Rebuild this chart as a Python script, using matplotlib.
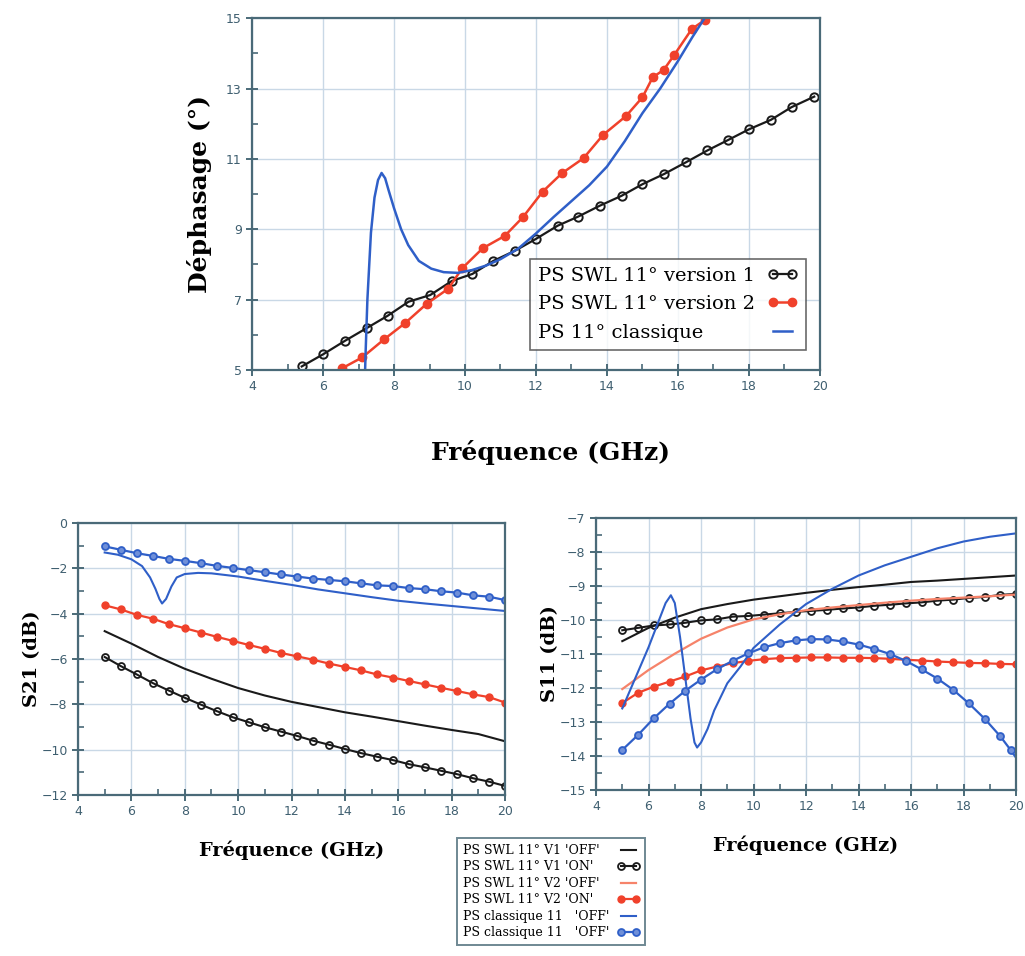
import numpy as np
import matplotlib.pyplot as plt
from matplotlib.ticker import MultipleLocator, FixedLocator

# Couleurs
NOIR = '#1a1a1a'
ROUGE = '#f0412b'
ROUGE_CLAIR = '#f6836a'
BLEU = '#2f5fc8'
GRILLE = '#c9d8e6'
AXE = '#4a6a78'

# ---- Déphasage (graphique du haut) ----
f_v1 = [5.40, 6.01, 6.62, 7.23, 7.82, 8.41, 9.02, 9.63, 10.21, 10.80, 11.41, 11.99, 12.61,
        13.19, 13.80, 14.41, 15.00, 15.61, 16.22, 16.83, 17.42, 18.00, 18.62, 19.20, 19.84]
phase_v1 = [5.10, 5.45, 5.83, 6.19, 6.54, 6.94, 7.13, 7.53, 7.73, 8.10, 8.39, 8.72, 9.10,
            9.36, 9.67, 9.95, 10.28, 10.57, 10.90, 11.24, 11.54, 11.84, 12.11, 12.47, 12.77]

f_v2 = [6.54, 7.11, 7.72, 8.31, 8.92, 9.53, 9.92, 10.50, 11.12, 11.63, 12.19, 12.73, 13.34,
        13.89, 14.54, 15.00, 15.29, 15.60, 15.90, 16.39, 16.76]
phase_v2 = [5.05, 5.36, 5.87, 6.33, 6.88, 7.31, 7.89, 8.46, 8.81, 9.34, 10.07, 10.59, 11.02,
            11.68, 12.22, 12.75, 13.32, 13.53, 13.96, 14.69, 14.95]

f_cl = [7.18, 7.20, 7.25, 7.35, 7.45, 7.55, 7.65, 7.75, 7.85, 8.00, 8.20, 8.40, 8.70, 9.05,
        9.40, 9.80, 10.20, 10.60, 11.00, 11.50, 12.00, 12.50, 13.00, 13.50, 14.00, 14.50,
        15.00, 15.50, 16.00, 16.40, 16.75]
phase_cl = [4.80, 5.50, 7.00, 8.90, 9.90, 10.40, 10.60, 10.45, 10.10, 9.60, 9.00, 8.55, 8.10,
            7.88, 7.78, 7.76, 7.84, 7.97, 8.15, 8.45, 8.88, 9.35, 9.80, 10.25, 10.78, 11.50,
            12.30, 13.00, 13.78, 14.45, 15.00]

# ---- S21 / S11 (graphiques du bas) ----
f_on = [5.0, 5.6, 6.2, 6.8, 7.4, 8.0, 8.6, 9.2, 9.8, 10.4, 11.0, 11.6, 12.2, 12.8, 13.4,
        14.0, 14.6, 15.2, 15.8, 16.4, 17.0, 17.6, 18.2, 18.8, 19.4, 20.0]
f_off = [5, 6, 7, 8, 9, 10, 11, 12, 13, 14, 15, 16, 17, 18, 19, 20]

s21_v1_off = [-4.77, -5.32, -5.91, -6.43, -6.87, -7.28, -7.61, -7.89, -8.12, -8.35, -8.54,
              -8.74, -8.94, -9.13, -9.31, -9.63]
s21_v1_on = [-5.91, -6.31, -6.68, -7.06, -7.39, -7.71, -8.01, -8.30, -8.57, -8.79, -9.01, -9.20,
             -9.39, -9.60, -9.78, -9.97, -10.15, -10.31, -10.46, -10.64, -10.78, -10.93,
             -11.08, -11.26, -11.41, -11.60]
s21_v2_on = [-3.63, -3.81, -4.05, -4.22, -4.46, -4.64, -4.83, -5.02, -5.20, -5.38, -5.55, -5.73,
             -5.88, -6.03, -6.20, -6.35, -6.50, -6.68, -6.82, -6.97, -7.12, -7.27, -7.41,
             -7.56, -7.68, -7.92]
s21_cl_on = [-1.03, -1.18, -1.33, -1.45, -1.58, -1.67, -1.77, -1.89, -1.98, -2.08, -2.17, -2.27,
             -2.36, -2.45, -2.51, -2.57, -2.66, -2.75, -2.78, -2.87, -2.92, -3.01, -3.07,
             -3.19, -3.25, -3.40]
f_s21_cl = [5.0, 5.5, 6.0, 6.4, 6.7, 6.9, 7.05, 7.15, 7.3, 7.5, 7.7, 8.0, 8.5, 9.0, 10, 11, 12,
            13, 14, 15, 16, 17, 18, 19, 20]
s21_cl_off = [-1.30, -1.40, -1.60, -1.90, -2.40, -2.90, -3.35, -3.55, -3.35, -2.80, -2.40, -2.25,
              -2.20, -2.22, -2.36, -2.55, -2.73, -2.93, -3.10, -3.27, -3.43, -3.55, -3.66,
              -3.77, -3.88]

s11_v1_off = [-10.62, -10.23, -9.93, -9.68, -9.53, -9.40, -9.30, -9.20, -9.11, -9.03, -8.96,
              -8.88, -8.84, -8.79, -8.74, -8.69]
s11_v1_on = [-10.30, -10.23, -10.16, -10.13, -10.08, -10.01, -9.98, -9.90, -9.88, -9.84, -9.80,
             -9.76, -9.73, -9.70, -9.66, -9.63, -9.58, -9.55, -9.51, -9.48, -9.43, -9.40,
             -9.35, -9.32, -9.26, -9.23]
s11_v2_off = [-12.03, -11.47, -10.99, -10.55, -10.22, -9.98, -9.83, -9.71, -9.63, -9.56, -9.49,
              -9.43, -9.38, -9.34, -9.30, -9.25]
s11_v2_on = [-12.44, -12.14, -11.96, -11.81, -11.66, -11.48, -11.37, -11.27, -11.20, -11.15,
             -11.12, -11.11, -11.10, -11.10, -11.11, -11.11, -11.12, -11.14, -11.17, -11.19,
             -11.22, -11.24, -11.26, -11.27, -11.29, -11.30]
f_s11_cl_on = [5.0, 5.6, 6.2, 6.8, 7.4, 8.0, 8.6, 9.2, 9.8, 10.4, 11.0, 11.6, 12.2, 12.8, 13.4,
               14.0, 14.6, 15.2, 15.8, 16.4, 17.0, 17.6, 18.2, 18.8, 19.4, 19.8, 20.0]
s11_cl_on = [-13.82, -13.38, -12.89, -12.46, -12.08, -11.75, -11.45, -11.20, -10.98, -10.80,
             -10.68, -10.60, -10.56, -10.57, -10.63, -10.72, -10.85, -11.00, -11.20, -11.45,
             -11.72, -12.05, -12.45, -12.90, -13.42, -13.83, -14.05]
f_s11_cl = [5.0, 5.5, 6.0, 6.4, 6.65, 6.85, 7.0, 7.2, 7.4, 7.6, 7.75, 7.85, 8.0, 8.25, 8.5, 9.0,
            9.5, 10, 11, 12, 13, 14, 15, 16, 17, 18, 19, 20]
s11_cl_off = [-12.60, -11.70, -10.80, -10.00, -9.50, -9.27, -9.50, -10.50, -11.70, -12.90,
              -13.60, -13.75, -13.60, -13.20, -12.66, -11.86, -11.37, -10.82, -10.13, -9.53,
              -9.08, -8.69, -8.39, -8.14, -7.89, -7.69, -7.55, -7.45]

legende_haut = ['PS SWL 11° version 1', 'PS SWL 11° version 2', 'PS 11° classique']
legende_bas = ["PS SWL 11° V1 'OFF'", "PS SWL 11° V1 'ON'", "PS SWL 11° V2 'OFF'",
               "PS SWL 11° V2 'ON'", "PS classique 11   'OFF'", "PS classique 11   'OFF'"]

plt.rcParams['font.family'] = 'DejaVu Serif'


def style_axe(ax, ymaj, ymin_ticks):
    ax.set_xlim(4, 20)
    ax.xaxis.set_major_locator(MultipleLocator(2))
    ax.xaxis.set_minor_locator(MultipleLocator(1))
    ax.yaxis.set_major_locator(FixedLocator(ymaj))
    ax.yaxis.set_minor_locator(FixedLocator(ymin_ticks))
    ax.grid(True, which='major', color=GRILLE, linewidth=1.0)
    ax.set_axisbelow(True)
    for s in ax.spines.values():
        s.set_color(AXE)
        s.set_linewidth(1.6)
    ax.tick_params(which='major', direction='inout', length=8, width=1.4, color=AXE,
                   labelcolor='#3f5f70', labelsize=9)
    ax.tick_params(which='minor', direction='in', length=4, width=1.2, color=AXE)
    for lab in ax.get_xticklabels() + ax.get_yticklabels():
        lab.set_family('DejaVu Sans')


def aligner_legende(leg):
    # texte à gauche, symboles à droite (comme dans la figure d'origine)
    fig.canvas.draw()
    r = fig.canvas.get_renderer()
    larg = [t.get_window_extent(r).width for t in leg.get_texts()]
    m = max(larg)
    for col in leg._legend_handle_box.get_children():
        for ligne, w in zip(col.get_children(), larg):
            ligne.sep += (m - w) * 72 / fig.dpi


fig = plt.figure(figsize=(10.25, 9.56), dpi=100)

# Déphasage
ax1 = fig.add_axes([0.2459, 0.613, 0.554, 0.368])
ax1.plot(f_v1, phase_v1, color=NOIR, lw=1.6, marker='o', ms=6, mfc='none', mec=NOIR, mew=1.4)
ax1.plot(f_v2, phase_v2, color=ROUGE, lw=1.8, marker='o', ms=6, mfc=ROUGE, mec=ROUGE)
ax1.plot(f_cl, phase_cl, color=BLEU, lw=1.8)
ax1.set_ylim(5, 15)
style_axe(ax1, [5, 7, 9, 11, 13, 15], [6, 8, 10, 12, 14])
ax1.set_xlabel('Fréquence (GHz)', fontsize=18, fontweight='bold')
ax1.xaxis.set_label_coords(0.525, -0.2)
ax1.set_ylabel('Déphasage (°)', fontsize=18, fontweight='bold', labelpad=10)
leg = ax1.legend(legende_haut, loc='lower right', bbox_to_anchor=(0.992, 0.03), fontsize=14,
                 markerfirst=False, numpoints=2, frameon=True, fancybox=False,
                 handlelength=1.6, handletextpad=0.6, borderpad=0.4, labelspacing=0.55)
leg.get_frame().set_edgecolor('#444444')
leg.get_frame().set_linewidth(1.2)

# S21
ax2 = fig.add_axes([0.0761, 0.1684, 0.4166, 0.2845])
ax2.plot(f_off, s21_v1_off, color=NOIR, lw=1.5)
ax2.plot(f_on, s21_v1_on, color=NOIR, lw=1.5, marker='o', ms=5, mfc='none', mec=NOIR, mew=1.3)
ax2.plot(f_on, s21_v2_on, color=ROUGE, lw=1.6, marker='o', ms=5, mfc=ROUGE, mec=ROUGE)
ax2.plot(f_s21_cl, s21_cl_off, color=BLEU, lw=1.5)
ax2.plot(f_on, s21_cl_on, color=BLEU, lw=1.6, marker='o', ms=5, mfc='#6f8fd8', mec=BLEU, mew=1.3)
ax2.set_ylim(-12, 0)
style_axe(ax2, range(-12, 1, 2), range(-11, 0, 2))
ax2.set_xlabel('Fréquence (GHz)', fontsize=14, fontweight='bold', labelpad=16)
ax2.set_ylabel('S21 (dB)', fontsize=14, fontweight='bold', labelpad=0)

# S11
ax3 = fig.add_axes([0.5815, 0.1736, 0.4098, 0.2845])
l1, = ax3.plot(f_off, s11_v1_off, color=NOIR, lw=1.5)
l2, = ax3.plot(f_on, s11_v1_on, color=NOIR, lw=1.5, marker='o', ms=5, mfc='none', mec=NOIR,
               mew=1.3)
l3, = ax3.plot(f_off, s11_v2_off, color=ROUGE_CLAIR, lw=1.6)
l4, = ax3.plot(f_on, s11_v2_on, color=ROUGE, lw=1.6, marker='o', ms=5, mfc=ROUGE, mec=ROUGE)
l5, = ax3.plot(f_s11_cl, s11_cl_off, color=BLEU, lw=1.5)
l6, = ax3.plot(f_s11_cl_on, s11_cl_on, color=BLEU, lw=1.6, marker='o', ms=5, mfc='#6f8fd8',
               mec=BLEU, mew=1.3, markevery=list(range(26)))
ax3.set_ylim(-15, -7)
style_axe(ax3, range(-15, -6), np.arange(-14.5, -7, 1.0))
ax3.set_xlabel('Fréquence (GHz)', fontsize=14, fontweight='bold', labelpad=16)
ax3.set_ylabel('S11 (dB)', fontsize=14, fontweight='bold', labelpad=0)

leg2 = fig.legend([l1, l2, l3, l4, l5, l6], legende_bas, loc='upper left',
                  bbox_to_anchor=(451 / 1025, 1 - 832 / 956), fontsize=9, markerfirst=False,
                  numpoints=2, frameon=True, fancybox=False, handlelength=1.8,
                  handletextpad=0.6, borderpad=0.45, labelspacing=0.28)
leg2.get_frame().set_edgecolor(AXE)
leg2.get_frame().set_linewidth(1.4)

aligner_legende(leg)
aligner_legende(leg2)

fig.savefig('out.png', dpi=100)
